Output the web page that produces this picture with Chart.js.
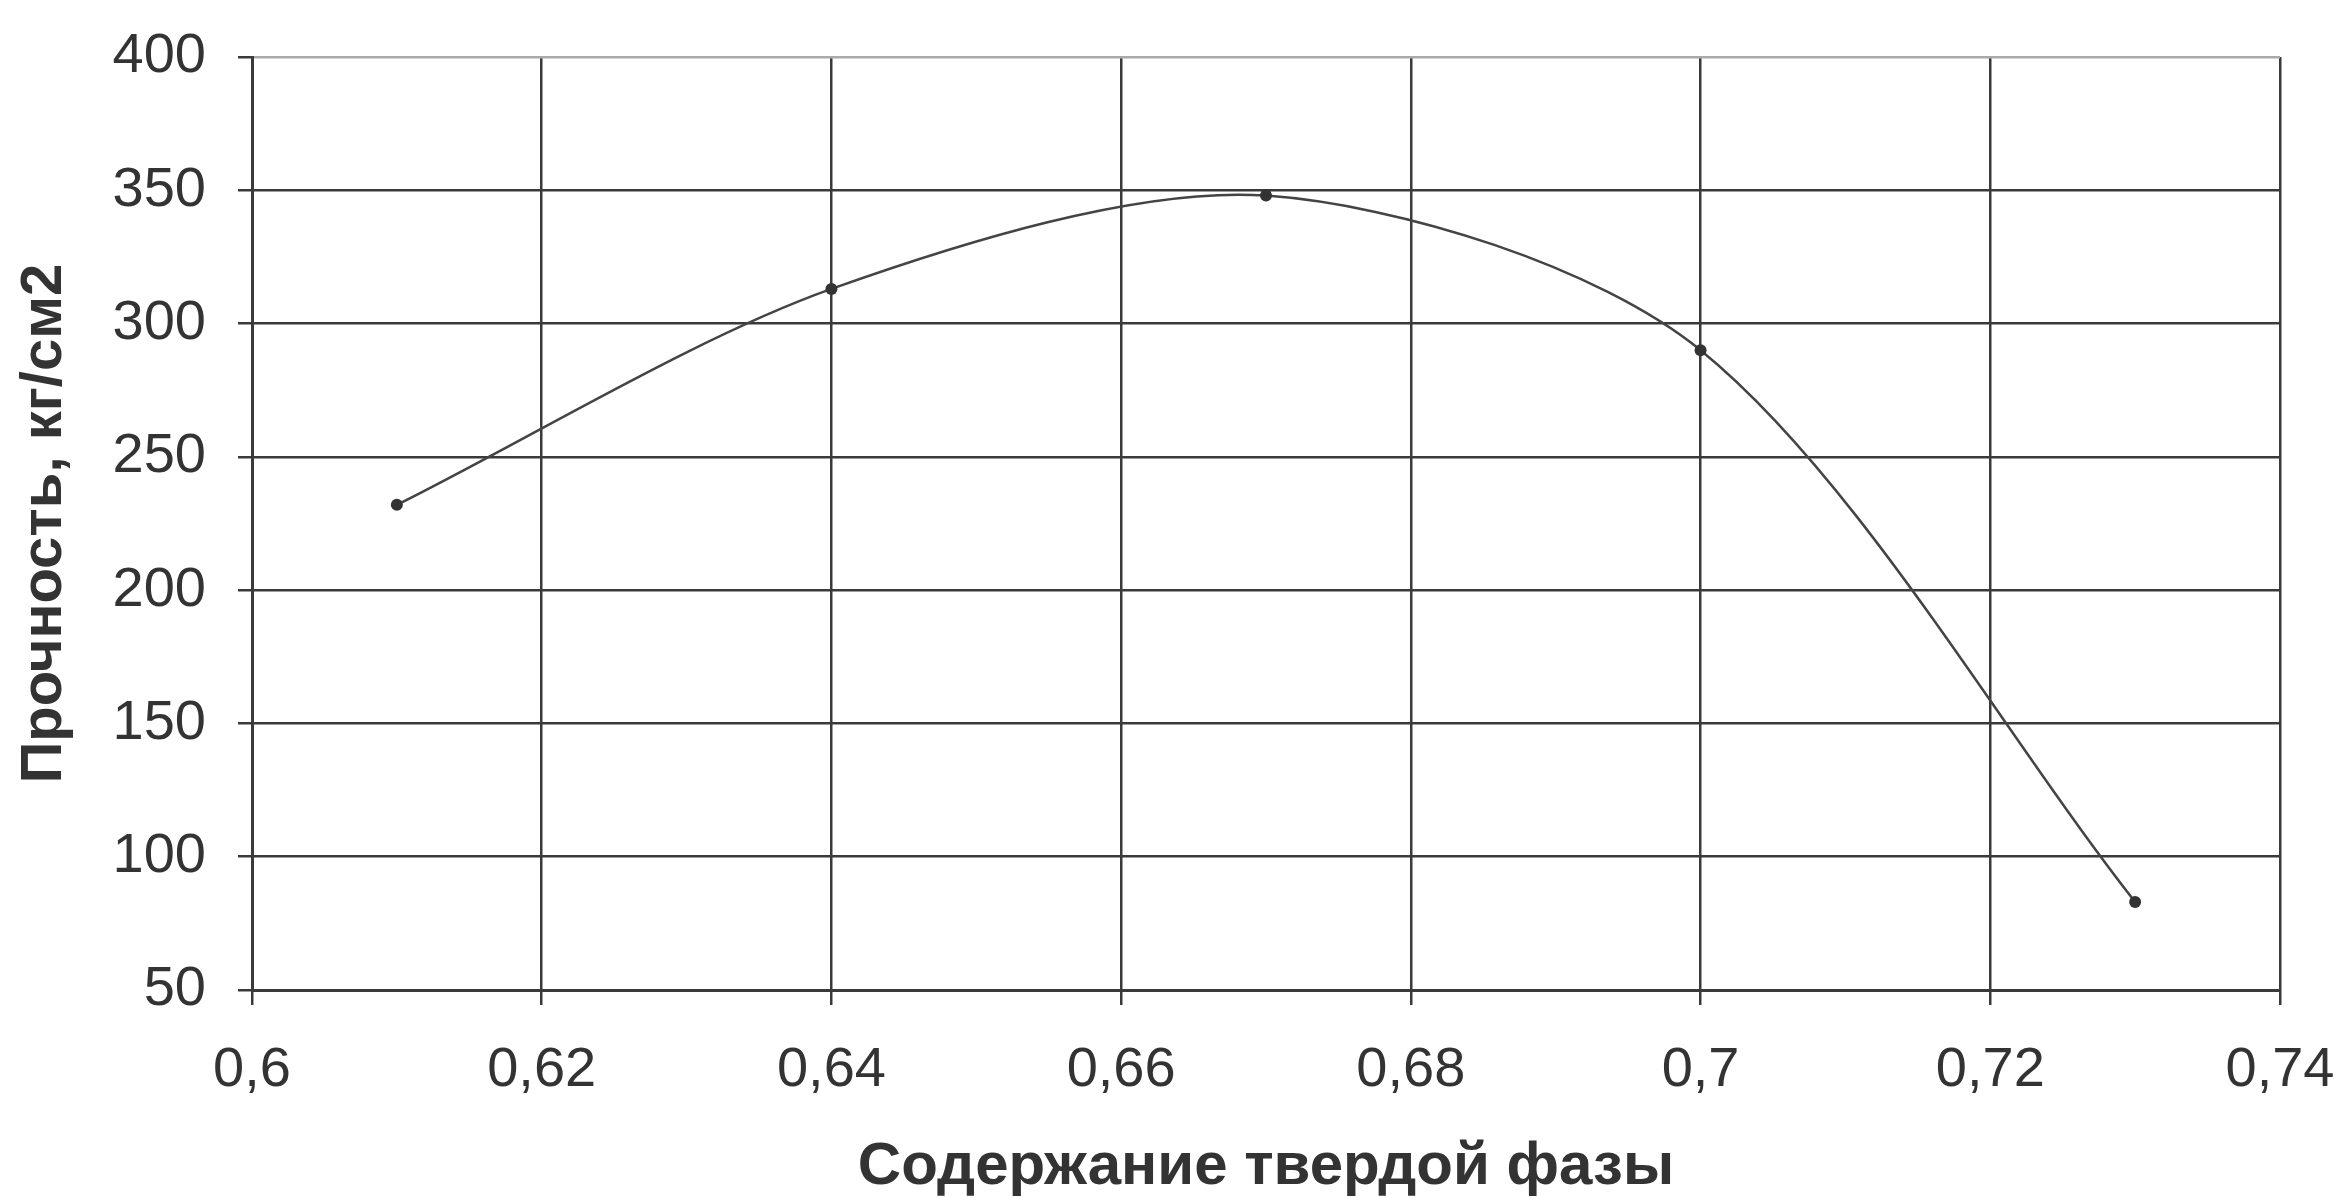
<!DOCTYPE html>
<html>
<head>
<meta charset="utf-8">
<script src="https://cdn.jsdelivr.net/npm/chart.js@4.4.0/dist/chart.umd.min.js"></script>
<style>
  html, body { margin: 0; padding: 0; background: #fff; }
  #wrap { width: 2342px; height: 1197px; }
</style>
</head>
<body>
<div id="wrap"><canvas id="strengthChart"></canvas></div>
<script>
// solid phase content vs strength
const solidContent = [0.61, 0.64, 0.67, 0.70, 0.73];
const strength = [232, 313, 348, 290, 83];
const xTitle = 'Содержание твердой фазы';
const yTitle = 'Прочность, кг/см2';

const points = solidContent.map((x, i) => ({ x: x, y: strength[i] }));
const ink = '#3a3a3a';

const ctx = document.getElementById('strengthChart').getContext('2d');
const myChart = new Chart(ctx, {
    type: 'scatter',
    data: {
        datasets: [{
            label: yTitle,
            data: points,
            showLine: true,
            tension: 0.3,
            borderColor: '#444',
            borderWidth: 2.5,
            backgroundColor: '#333',
            pointRadius: 6,
            pointBorderWidth: 0
        }]
    },
    options: {
        responsive: true,
        maintainAspectRatio: false,
        animation: false,
        layout: { padding: { left: 8, right: 62, top: 57, bottom: 0 } },
        plugins: {
            legend: { display: false },
            tooltip: { enabled: false }
        },
        scales: {
            x: {
                type: 'linear',
                min: 0.6,
                max: 0.74,
                ticks: {
                    stepSize: 0.02,
                    padding: 32,
                    color: '#333',
                    font: { family: 'Liberation Sans', size: 56 },
                    callback: v => Number(v.toFixed(2)).toString().replace('.', ',')
                },
                grid: { color: ink, lineWidth: 2.5, tickLength: 15, tickColor: ink },
                border: { color: ink, width: 3 },
                title: {
                    display: true,
                    text: xTitle,
                    color: '#333',
                    font: { family: 'Liberation Sans', size: 60, weight: 'bold', lineHeight: 1 },
                    padding: { top: 0, bottom: 0 }
                },
                afterFit: s => {
                    s.height = 1197 - 990;
                    s.paddingLeft = 0;
                    s.paddingRight = 0;
                }
            },
            y: {
                min: 50,
                max: 400,
                ticks: {
                    stepSize: 50,
                    padding: 32,
                    color: '#333',
                    font: { family: 'Liberation Sans', size: 56 }
                },
                grid: {
                    color: c => c.tick && c.tick.value === 400 ? '#aaa' : ink,
                    lineWidth: 2.5,
                    tickLength: 14,
                    tickColor: ink
                },
                border: { color: ink, width: 3 },
                title: {
                    display: true,
                    text: yTitle,
                    color: '#333',
                    font: { family: 'Liberation Sans', size: 58, weight: 'bold', lineHeight: 1 },
                    padding: { top: 8, bottom: 0 }
                },
                afterFit: s => {
                    s.width = 252 - 8;
                    s.paddingTop = 0;
                    s.paddingBottom = 0;
                }
            }
        }
    }
});
</script>
</body>
</html>
